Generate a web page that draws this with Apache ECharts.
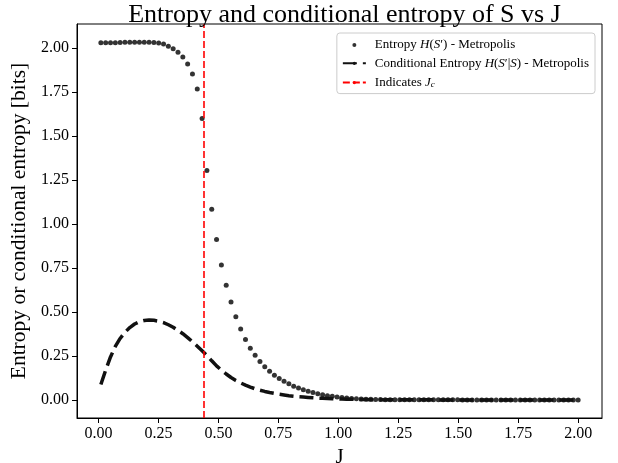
<!DOCTYPE html>
<html><head><meta charset="utf-8">
<script src="https://cdn.jsdelivr.net/npm/echarts@6/dist/echarts.min.js"></script>
<style>html,body{margin:0;padding:0;background:#fff}#c{width:618px;height:463px}</style>
</head><body><div id="c"></div>
<script>
const J = [0.0100,0.0301,0.0502,0.0703,0.0904,0.1105,0.1306,0.1507,0.1708,0.1909,
0.2110,0.2311,0.2512,0.2713,0.2914,0.3115,0.3316,0.3517,0.3718,0.3919,
0.4120,0.4321,0.4522,0.4723,0.4924,0.5125,0.5326,0.5527,0.5728,0.5929,
0.6130,0.6331,0.6532,0.6733,0.6934,0.7135,0.7336,0.7537,0.7738,0.7939,
0.8140,0.8341,0.8542,0.8743,0.8944,0.9145,0.9346,0.9547,0.9748,0.9949,
1.0151,1.0352,1.0553,1.0754,1.0955,1.1156,1.1357,1.1558,1.1759,1.1960,
1.2161,1.2362,1.2563,1.2764,1.2965,1.3166,1.3367,1.3568,1.3769,1.3970,
1.4171,1.4372,1.4573,1.4774,1.4975,1.5176,1.5377,1.5578,1.5779,1.5980,
1.6181,1.6382,1.6583,1.6784,1.6985,1.7186,1.7387,1.7588,1.7789,1.7990,
1.8191,1.8392,1.8593,1.8794,1.8995,1.9196,1.9397,1.9598,1.9799,2.0000];

const entropy = [2.030,2.030,2.031,2.031,2.032,2.033,2.034,2.034,2.034,2.034,
2.033,2.032,2.029,2.023,2.011,1.997,1.977,1.949,1.910,1.853,
1.768,1.600,1.305,1.084,0.912,0.768,0.653,0.557,0.473,0.404,
0.344,0.295,0.255,0.219,0.189,0.164,0.141,0.123,0.107,0.093,
0.079,0.068,0.058,0.050,0.043,0.036,0.030,0.025,0.021,0.017,
0.014,0.011,0.009,0.007,0.006,0.005,0.004,0.003,0.003,0.002,
0.002,0.002,0.001,0.001,0.001,0.001,0.001,0.001,0.001,0.001,
0.001,0.001,0.001,0.001,0.001,0.000,0.000,0.000,0.000,0.000,
0.000,0.000,0.000,0.000,0.000,0.000,0.000,0.000,0.000,0.000,
0.000,0.000,0.000,0.000,0.000,0.000,0.000,0.000,0.000,0.000];

const condEntropy = [0.088,0.170,0.245,0.305,0.350,0.385,0.412,0.432,0.445,0.452,
0.455,0.453,0.448,0.440,0.428,0.414,0.396,0.377,0.355,0.331,
0.306,0.280,0.253,0.223,0.194,0.170,0.148,0.128,0.111,0.097,
0.085,0.074,0.064,0.056,0.049,0.043,0.038,0.033,0.029,0.025,
0.022,0.019,0.017,0.015,0.013,0.011,0.010,0.009,0.008,0.007,
0.006,0.005,0.004,0.004,0.003,0.003,0.002,0.002,0.002,0.001,
0.001,0.001,0.001,0.001,0.001,0.001,0.001,0.001,0.001,0.001,
0.000,0.000,0.000,0.000,0.000,0.000,0.000,0.000,0.000,0.000,
0.000,0.000,0.000,0.000,0.000,0.000,0.000,0.000,0.000,0.000,
0.000,0.000,0.000,0.000,0.000,0.000,0.000,0.000,0.000,0.000];

const xTicks = [0, 0.25, 0.5, 0.75, 1.0, 1.25, 1.5, 1.75, 2.0];
const yTicks = [0, 0.25, 0.5, 0.75, 1.0, 1.25, 1.5, 1.75, 2.0];
const JC = 0.4407;

const FONT = '"Liberation Serif", "DejaVu Serif", serif';
const chart = echarts.init(document.getElementById('c'), null, {renderer: 'canvas'});
const legendText = {
  entropy: 'Entropy {i|H}({i|S}\u2032) - Metropolis',
  cond: 'Conditional Entropy {i|H}({i|S}\u2032|{i|S}) - Metropolis',
  jc: 'Indicates {i|J}{sub|c}'
};
chart.setOption({
  animation: false,
  backgroundColor: '#fff',
  title: {
    text: 'Entropy and conditional entropy of S vs J',
    left: 339.5, textAlign: 'center', top: -3,
    textStyle: {fontFamily: FONT, fontSize: 26, fontWeight: 'normal', color: '#000'}
  },
  grid: {left: 77, right: 16, top: 24, bottom: 45, containLabel: false, outerBoundsMode: 'none',
    show: true, borderColor: '#000', borderWidth: 1, backgroundColor: 'transparent'},
  legend: {
    orient: 'vertical', right: 23, top: 33,
    padding: [5, 6, 4, 5], itemGap: 4.3, itemWidth: 23, itemHeight: 4,
    borderColor: '#cccccc', borderWidth: 1, borderRadius: 3, backgroundColor: 'rgba(255,255,255,0.8)',
    textStyle: {fontFamily: FONT, fontSize: 13, color: '#000', lineHeight: 14, padding: [0, 0, 0, 4],
      rich: {i: {fontFamily: FONT, fontStyle: 'italic', fontSize: 13, lineHeight: 14},
             sub: {fontFamily: FONT, fontStyle: 'italic', fontSize: 9, lineHeight: 14, verticalAlign: 'bottom', padding: [6,0,0,0]}}},
    formatter: (n) => legendText[n],
    data: [
      {name: 'entropy', icon: 'circle', itemStyle: {color: '#000'}},
      {name: 'cond'},
      {name: 'jc'}
    ]
  },
  xAxis: {
    type: 'value', min: -0.0895, max: 2.0995,
    name: 'J', nameLocation: 'middle', nameGap: 13,
    nameTextStyle: {fontFamily: FONT, fontSize: 21, color: '#000'},
    splitLine: {show: false},
    axisLine: {show: true, onZero: false, lineStyle: {color: '#000', width: 1}},
    axisTick: {show: true, length: 5, lineStyle: {color: '#000'}, customValues: xTicks},
    axisLabel: {customValues: xTicks, margin: 8, fontFamily: FONT, fontSize: 16, color: '#000',
      formatter: (v) => v.toFixed(2)}
  },
  yAxis: {
    type: 'value', min: -0.102, max: 2.137,
    name: 'Entropy or conditional entropy [bits]', nameLocation: 'middle', nameGap: 44,
    nameTextStyle: {fontFamily: FONT, fontSize: 21.5, color: '#000'},
    splitLine: {show: false},
    axisLine: {show: true, onZero: false, lineStyle: {color: '#000', width: 1}},
    axisTick: {show: true, length: 5, lineStyle: {color: '#000'}, customValues: yTicks},
    axisLabel: {customValues: yTicks, margin: 8, fontFamily: FONT, fontSize: 16, color: '#000',
      formatter: (v) => v.toFixed(2)}
  },
  series: [
    {name: 'entropy', type: 'scatter', symbol: 'circle', symbolSize: 5,
     itemStyle: {color: '#000'}, z: 2,
     data: J.map((x, i) => [x, entropy[i]])},
    {name: 'cond', type: 'line', symbol: 'none', showSymbol: false, z: 3,
     lineStyle: {color: '#111', width: 3.5, type: [14, 6]}, itemStyle: {color: '#111'},
     data: J.map((x, i) => [x, condEntropy[i]])},
    {name: 'jc', type: 'line', symbol: 'none', data: [], z: 4,
     lineStyle: {color: '#ff0000', width: 1.6, type: [7, 3]}, itemStyle: {color: '#ff0000'},
     markLine: {silent: true, symbol: 'none', label: {show: false}, animation: false,
       lineStyle: {color: '#ff0000', width: 1.6, type: [7, 3]},
       data: [{xAxis: JC}]}}
  ]
});
</script></body></html>
